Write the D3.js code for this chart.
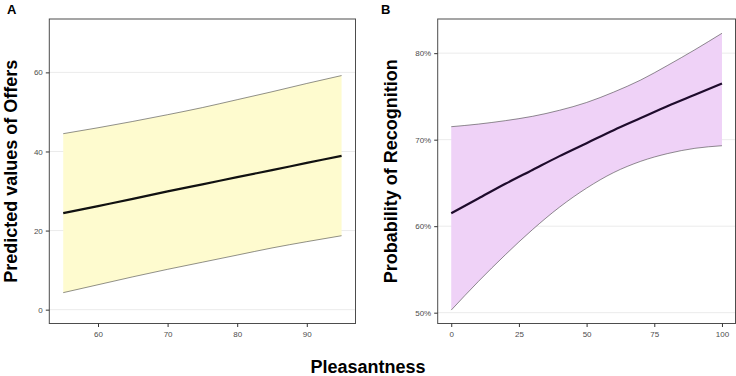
<!DOCTYPE html>
<html>
<head>
<meta charset="utf-8">
<script src="https://cdn.jsdelivr.net/npm/d3@7"></script>
<style>
  body { margin: 0; background: #fff; }
  svg { display: block; font-family: "Liberation Sans", Arial, sans-serif; }
  .tick text { fill: #4d4d4d; font-size: 8px; }
  .tick line { stroke: #333; }
  .domain { display: none; }
</style>
</head>
<body>
<svg class="chart" width="736" height="376"></svg>
<script>
// panel A: predicted offers vs pleasantness
const pleasA = [55, 60, 65, 70, 75, 80, 85, 90, 95];
const fitA = [24.4, 26.2, 28.0, 29.9, 31.7, 33.5, 35.3, 37.1, 38.9];
const upperA = [44.5, 46.0, 47.6, 49.3, 51.1, 53.1, 55.1, 57.2, 59.2];
const lowerA = [4.3, 6.3, 8.3, 10.2, 12.0, 13.8, 15.6, 17.2, 18.7];
const xTicksA = [60, 70, 80, 90];
const yTicksA = [0, 20, 40, 60];

// panel B: probability of recognition (%) vs pleasantness
const pleasB = [0, 10, 20, 30, 40, 50, 60, 70, 80, 90, 100];
const fitB = [61.5, 63.2, 64.9, 66.5, 68.1, 69.6, 71.1, 72.5, 73.9, 75.2, 76.5];
const upperB = [71.5, 71.8, 72.2, 72.7, 73.4, 74.3, 75.5, 76.9, 78.6, 80.4, 82.3];
const lowerB = [50.3, 53.6, 56.7, 59.6, 62.2, 64.4, 66.2, 67.5, 68.4, 69.0, 69.3];
const xTicksB = [0, 25, 50, 75, 100];
const yTicksB = [50, 60, 70, 80];

const svg = d3.select(".chart");
const plotTop = 19, plotBottom = 323.5;

function panel(opts) {
  const x = d3.scaleLinear().domain(opts.xDomain).range([opts.left, opts.right]);
  const y = d3.scaleLinear().domain(opts.yDomain).range([plotBottom, plotTop]);
  const g = svg.append('g');

  // gridlines
  g.selectAll('.grid')
    .data(opts.yTicks)
    .enter().append('line')
    .attr('x1', opts.left).attr('x2', opts.right)
    .attr('y1', (d) => y(d)).attr('y2', (d) => y(d))
    .style('stroke', '#ebebeb')
    .style('stroke-width', 1);

  const rows = opts.xs.map((v, i) => ({x: v, fit: opts.fit[i], lo: opts.lower[i], hi: opts.upper[i]}));

  g.append('path')
    .datum(rows)
    .attr('d', d3.area().x((d) => x(d.x)).y0((d) => y(d.lo)).y1((d) => y(d.hi)).curve(d3.curveMonotoneX))
    .style('fill', opts.fill);

  [['hi', 0.5, '#222'], ['lo', 0.5, '#222'], ['fit', 2.2, opts.lineColor]].forEach(([k, w, c]) => {
    g.append('path')
      .datum(rows)
      .attr('d', d3.line().x((d) => x(d.x)).y((d) => y(d[k])).curve(d3.curveMonotoneX))
      .style('fill', 'none')
      .style('stroke', c)
      .style('stroke-width', w);
  });

  g.append('rect')
    .attr('x', opts.left).attr('y', plotTop)
    .attr('width', opts.right - opts.left).attr('height', plotBottom - plotTop)
    .style('fill', 'none')
    .style('stroke', '#4d4d4d')
    .style('stroke-width', 1);

  g.append('g')
    .attr('transform', `translate(0,${plotBottom})`)
    .call(d3.axisBottom(x).tickValues(opts.xTicks).tickSize(3.5).tickPadding(4));

  g.append('g')
    .attr('transform', `translate(${opts.left},0)`)
    .call(d3.axisLeft(y).tickValues(opts.yTicks).tickSize(3.5).tickPadding(3).tickFormat(opts.yFormat));

  g.append('text')
    .attr('transform', `translate(${opts.titleX},${(plotTop + plotBottom) / 2}) rotate(-90)`)
    .attr('text-anchor', 'middle')
    .style('font-size', '18px')
    .style('font-weight', 'bold')
    .text(opts.yTitle);

  g.append('text')
    .attr('x', opts.tagX).attr('y', 14)
    .style('font-size', '13px')
    .style('font-weight', 'bold')
    .text(opts.tag);
}

panel({
  left: 49.3, right: 355.5, xDomain: [53, 97], yDomain: [-3.5, 73.5],
  xs: pleasA, fit: fitA, upper: upperA, lower: lowerA,
  xTicks: xTicksA, yTicks: yTicksA, yFormat: (d) => d,
  fill: '#fefbcf', lineColor: '#111',
  yTitle: 'Predicted values of Offers', titleX: 17, tag: 'A', tagX: 7
});

panel({
  left: 437.7, right: 735.5, xDomain: [-5, 105], yDomain: [48.75, 83.95],
  xs: pleasB, fit: fitB, upper: upperB, lower: lowerB,
  xTicks: xTicksB, yTicks: yTicksB, yFormat: (d) => d + '%',
  fill: '#efd2f7', lineColor: '#1e0b2c',
  yTitle: 'Probability of Recognition', titleX: 397, tag: 'B', tagX: 381
});

svg.append('text')
  .attr('x', 368).attr('y', 373)
  .attr('text-anchor', 'middle')
  .style('font-size', '18px')
  .style('font-weight', 'bold')
  .text('Pleasantness');
</script>
</body>
</html>
